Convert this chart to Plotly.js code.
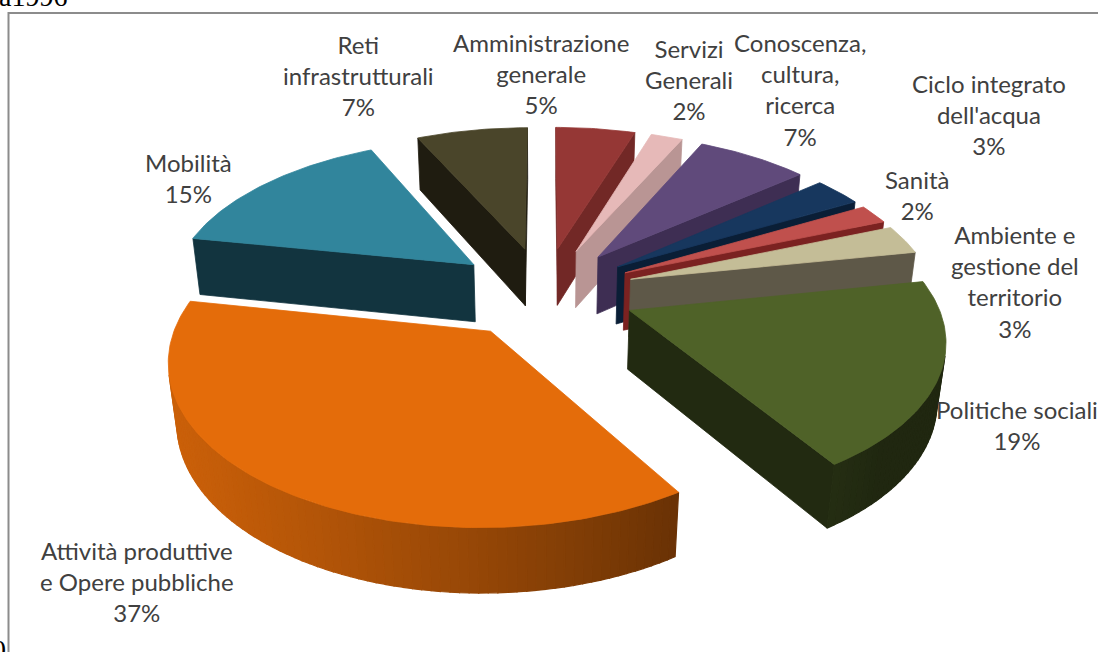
<!DOCTYPE html>
<html><head><meta charset="utf-8">
<script src="https://cdn.plot.ly/plotly-3.0.1.min.js"></script>
<style>html,body{margin:0;padding:0;background:#fff;overflow:hidden}#chart{width:1098px;height:652px}</style>
</head><body><div id="chart"></div>
<script>
// ---- data ----
const categories = ['Amministrazione\ngenerale', 'Servizi\nGenerali', 'Conoscenza,\ncultura,\nricerca',
  "Ciclo integrato\ndell'acqua", 'Sanità', 'Ambiente e\ngestione del\nterritorio', 'Politiche sociali',
  'Attività produttive\ne Opere pubbliche', 'Mobilità', 'Reti\ninfrastrutturali'];
const values = [5, 2, 7, 3, 2, 3, 19, 37, 15, 7];

// ---- styles ----
const topColors  = ['#953735', '#E6B9B8', '#604A7B', '#17375E', '#C0504D', '#C4BD97', '#4F6228', '#E46C0A', '#31859C', '#4A452A'];
const sideColors = ['#722826', '#B99594', '#3E2E53', '#0A1E36', '#7B2221', '#5E5848', '#222A11', '#8B4006', '#12343F', '#1F1C10'];
const labelPos = [[541, 73], [689, 80], [800, 89], [989, 115], [917, 195], [1015, 281], [1017, 425], [137, 581], [188, 178], [358, 75]];

const W = 1098, H = 652;
const cam = {phi: 32 * Math.PI / 180, D: 5.6, S: 298, cx: 544, cy: 350};
const thick = 0.225, explode = 0.3;
const sp = Math.sin(cam.phi), cp = Math.cos(cam.phi);
const C = [0, -cam.D * cp, cam.D * sp];

function project(X, Y, Z) {
  const t = -Y * cp + Z * sp;
  const k = cam.D / (cam.D - t);
  return [cam.cx + cam.S * X * k, cam.cy - cam.S * (Y * sp + Z * cp) * k];
}
function depth(X, Y, Z) { return -Y * cp + Z * sp; }
function shade(hex, f) {
  const n = parseInt(hex.slice(1), 16);
  const r = Math.round(((n >> 16) & 255) * f), g = Math.round(((n >> 8) & 255) * f), b = Math.round((n & 255) * f);
  return 'rgb(' + r + ',' + g + ',' + b + ')';
}
function poly(pts, color, lw) {
  const xs = [], ys = [];
  pts.forEach(p => { const q = project(p[0], p[1], p[2]); xs.push(q[0]); ys.push(q[1]); });
  xs.push(xs[0]); ys.push(ys[0]);
  return {type: 'scatter', mode: 'lines', x: xs, y: ys, fill: 'toself', fillcolor: color,
    line: {color: color, width: lw || 0.8}, hoverinfo: 'skip', showlegend: false};
}
function visible(n, P) {
  return n[0] * (C[0] - P[0]) + n[1] * (C[1] - P[1]) + n[2] * (C[2] - P[2]) > 0;
}

const total = values.reduce((a, b) => a + b, 0);
const slices = [];
let acc = 0;
values.forEach((v, i) => {
  const a0 = acc / total * 2 * Math.PI;
  acc += v;
  const a1 = acc / total * 2 * Math.PI;
  const m = (a0 + a1) / 2;
  const ox = explode * Math.sin(m), oy = explode * Math.cos(m);
  const d = depth(ox + 0.5 * Math.sin(m), oy + 0.5 * Math.cos(m), thick);
  slices.push({i, a0, a1, m, ox, oy, d});
});
slices.sort((a, b) => a.d - b.d);

const traces = [];
slices.forEach(s => {
  const {i, a0, a1, ox, oy} = s;
  const arc = (a, z) => [ox + Math.sin(a), oy + Math.cos(a), z];
  const apexT = [ox, oy, thick], apexB = [ox, oy, 0];
  const n0 = [-Math.cos(a0), Math.sin(a0), 0];
  const p0 = [ox + 0.5 * Math.sin(a0), oy + 0.5 * Math.cos(a0), thick / 2];
  if (visible(n0, p0)) traces.push(poly([apexT, arc(a0, thick), arc(a0, 0), apexB], sideColors[i]));
  const n1 = [Math.cos(a1), -Math.sin(a1), 0];
  const p1 = [ox + 0.5 * Math.sin(a1), oy + 0.5 * Math.cos(a1), thick / 2];
  if (visible(n1, p1)) traces.push(poly([apexT, arc(a1, thick), arc(a1, 0), apexB], sideColors[i]));
  const nseg = Math.max(1, Math.ceil((a1 - a0) / (1.5 * Math.PI / 180)));
  for (let k = 0; k < nseg; k++) {
    const ta = a0 + (a1 - a0) * k / nseg, tb = a0 + (a1 - a0) * (k + 1) / nseg, tm = (ta + tb) / 2;
    const n = [Math.sin(tm), Math.cos(tm), 0];
    const P = [ox + Math.sin(tm), oy + Math.cos(tm), thick / 2];
    if (!visible(n, P)) continue;
    let f = 0.55 + 0.4 * (-0.8 * Math.sin(tm) - 0.25 * Math.cos(tm));
    f = Math.max(0.4, Math.min(0.9, f));
    traces.push(poly([arc(ta, thick), arc(tb, thick), arc(tb, 0), arc(ta, 0)], shade(topColors[i], f), 1.2));
  }
  const pts = [apexT];
  const steps = Math.max(2, Math.ceil((a1 - a0) / (Math.PI / 180)));
  for (let k = 0; k <= steps; k++) pts.push(arc(a0 + (a1 - a0) * k / steps, thick));
  traces.push(poly(pts, topColors[i]));
});

const px = x => x / W, py = y => 1 - y / H;
const annotations = categories.map((c, i) => ({
  xref: 'paper', yref: 'paper', x: px(labelPos[i][0]), y: py(labelPos[i][1]),
  xanchor: 'center', yanchor: 'middle', showarrow: false, align: 'center',
  text: c.split('\n').join('<br>') + '<br>' + values[i] + '%',
  font: {family: 'Lato, "Noto Sans", sans-serif', size: 24, color: '#404040'}
}));
annotations.push({xref: 'paper', yref: 'paper', x: px(-3), y: py(-4), xanchor: 'left', yanchor: 'middle',
  showarrow: false, text: 'a1996', font: {family: '"Liberation Serif", serif', size: 28, color: '#000'}});
annotations.push({xref: 'paper', yref: 'paper', x: px(8), y: py(649), xanchor: 'right', yanchor: 'middle',
  showarrow: false, text: '0', font: {family: '"Liberation Serif", serif', size: 28, color: '#000'}});

const layout = {
  width: W, height: H, margin: {l: 0, r: 0, t: 0, b: 0},
  paper_bgcolor: '#fff', plot_bgcolor: '#fff', showlegend: false,
  xaxis: {range: [0, W], visible: false, fixedrange: true},
  yaxis: {range: [H, 0], visible: false, fixedrange: true},
  shapes: [{type: 'rect', xref: 'x', yref: 'y', x0: 8.5, y0: 13, x1: 1200, y1: 800, layer: 'below',
    line: {color: '#8C8C8C', width: 2}, fillcolor: 'rgba(0,0,0,0)'}],
  annotations: annotations
};
Plotly.newPlot('chart', traces, layout, {displayModeBar: false, staticPlot: true});
</script></body></html>
